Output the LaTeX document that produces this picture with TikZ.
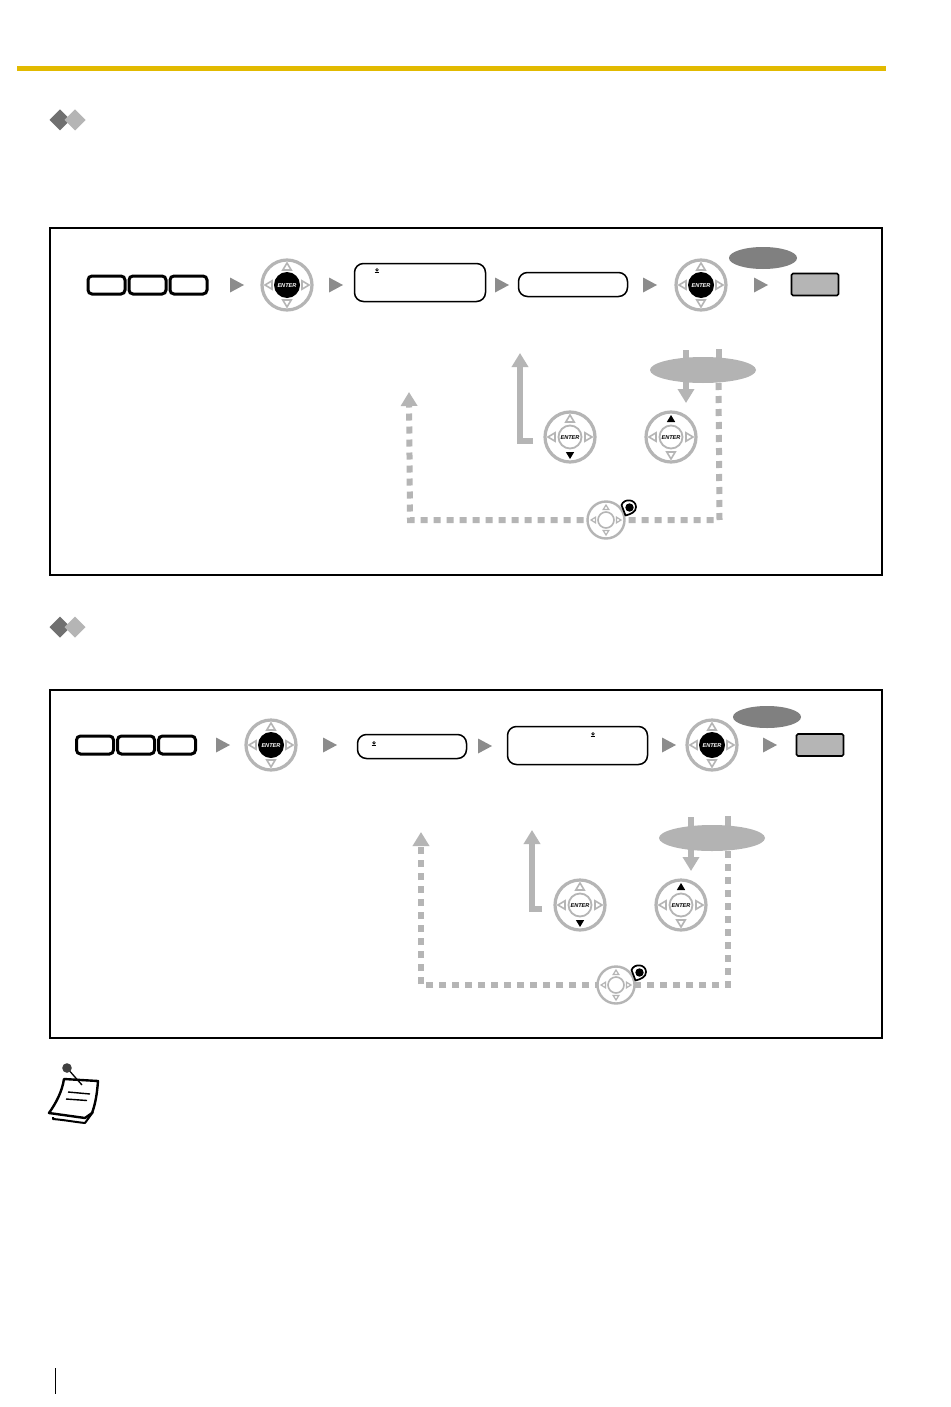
\documentclass[tikz,border=0pt]{standalone}
\usepackage{fontspec}
\setmainfont{Liberation Sans}
\usetikzlibrary{arrows.meta,shapes.geometric}
\definecolor{barc}{HTML}{E2BA00}
\definecolor{padc}{HTML}{B5B5B5}
\definecolor{ovalc}{HTML}{808080}
\definecolor{ovall}{HTML}{B3B3B3}
\definecolor{flowc}{HTML}{8C8C8C}
\definecolor{diamd}{HTML}{707070}
\tikzset{
  x=1pt,y=-1pt,
  panel/.style={draw=black,line width=1.5pt},
  keybox/.style={draw=black,line width=3pt,rounded corners=4pt,minimum width=37pt,minimum height=18pt,inner sep=0pt},
  dispbox/.style={draw=black,line width=1.5pt,rounded corners=9pt,inner sep=0pt},
  graybox/.style={draw=black,line width=1.6pt,fill=padc,rounded corners=1.5pt,minimum width=47pt,minimum height=22pt,inner sep=0pt},
  oval/.style={ellipse,inner sep=0pt},
  padring/.style={circle,draw=padc,fill=white,line width=3.2pt,inner sep=0pt},
  padtri/.style={draw=padc,line width=1.6pt,fill=white,line join=miter},
  conn/.style={draw=padc,line width=6pt,-{Triangle[width=16pt,length=14pt,fill=padc]}},
  connd/.style={conn,dash pattern=on 7pt off 6pt},
  stub/.style={draw=padc,line width=6pt},
  enterw/.style={text=white,font=\fontsize{5.6}{6}\selectfont\bfseries\itshape,inner sep=0pt,yshift=-.6pt},
  enterk/.style={text=black,font=\fontsize{5.6}{6}\selectfont\bfseries\itshape,inner sep=0pt,yshift=-.6pt},
}
\newcommand{\padfour}[4]{% up down left right styles
  \path[#1] (0,-22)--(4.2,-15)--(-4.2,-15)--cycle;
  \path[#2] (0,22)--(4.2,15)--(-4.2,15)--cycle;
  \path[#3] (-22,0)--(-15,-4.2)--(-15,4.2)--cycle;
  \path[#4] (22,0)--(15,-4.2)--(15,4.2)--cycle;}
% black enter pad
\newcommand{\padblack}[3]{%
  \node[padring,minimum size=50pt] (#1) at (#2,#3) {};
  \begin{scope}[shift={(#2,#3)}]
    \padfour{padtri}{padtri}{padtri}{padtri}
    \fill[black] (0,0) circle (13);
  \end{scope}
  \node[enterw] at (#2,#3) {ENTER};}
% light enter pad, with one black triangle
\newcommand{\padlight}[5]{%
  \node[padring,minimum size=50pt] (#1) at (#2,#3) {};
  \begin{scope}[shift={(#2,#3)}]
    \padfour{#4}{#5}{padtri}{padtri}
    \draw[padc,line width=1.8pt,fill=white] (0,0) circle (11.5);
  \end{scope}
  \node[enterk] at (#2,#3) {ENTER};}
% small navigator pad with a pin
\newcommand{\padnav}[3]{%
  \node[padring,line width=2.4pt,minimum size=37pt] (#1) at (#2,#3) {};
  \begin{scope}[shift={(#2,#3)}]
    \path[padtri,line width=1.2pt] (0,-15)--(2.8,-10.5)--(-2.8,-10.5)--cycle;
    \path[padtri,line width=1.2pt] (0,15)--(2.8,10.5)--(-2.8,10.5)--cycle;
    \path[padtri,line width=1.2pt] (-15,0)--(-10.5,-2.8)--(-10.5,2.8)--cycle;
    \path[padtri,line width=1.2pt] (15,0)--(10.5,-2.8)--(10.5,2.8)--cycle;
    \draw[padc,line width=1.6pt,fill=white] (0,0) circle (8);
    \draw[black,line width=1.7pt,fill=white,line join=round] (19.5,-4.5)--(15.5,-15)..controls (18,-22) and (30,-21) .. (30,-13)..controls (30,-8) and (25,-6) .. (19.5,-4.5)--cycle;
    \fill[black] (23.5,-12.5) circle (4.2);
  \end{scope}}
\newcommand{\flowtri}[2]{\fill[flowc] (#1,#2-7.5)--(#1+14,#2)--(#1,#2+7.5)--cycle;}
\newcommand{\curs}[2]{%
  \draw[black,line width=.7pt] (#1,#2-1.2) circle (1.3);
  \draw[black,line width=1.1pt] (#1-2.4,#2+1.9)--(#1+2.4,#2+1.9);}
\newcommand{\diams}[1]{%
  \fill[diamd] (60,#1-10.5)--(70.5,#1)--(60,#1+10.5)--(49.5,#1)--cycle;
  \fill[padc] (75,#1-10.5)--(85.5,#1)--(75,#1+10.5)--(64.5,#1)--cycle;}
\begin{document}
\begin{tikzpicture}
\useasboundingbox (0,0) rectangle (950,1407);
\fill[white] (0,0) rectangle (950,1407);
\fill[barc] (17,66) rectangle (886,71.5);
\diams{120}
\diams{627}
\draw[panel] (50,228) rectangle (882,575);
\draw[panel] (50,690) rectangle (882,1038);

% ---------- panel 1
\node[keybox] (k1a) at (106.5,285) {};
\node[keybox] (k1b) at (147.5,285) {};
\node[keybox] (k1c) at (188.5,285) {};
\flowtri{230}{285}
\padblack{p1a}{287}{285}
\flowtri{329}{285}
\node[dispbox,minimum width=131pt,minimum height=38pt] (d1a) at (420,282.5) {};
\curs{377}{271}
\flowtri{495}{285}
\node[dispbox,minimum width=109pt,minimum height=24pt] (d1b) at (573,284.5) {};
\flowtri{643}{285}
\padblack{p1b}{701}{285}
\node[oval,fill=ovalc,minimum width=68pt,minimum height=22pt] (o1a) at (763,258) {};
\flowtri{754}{285}
\node[graybox] (g1) at (815,284.5) {};

\coordinate (s1a) at (533,441); \coordinate (s1b) at (520,441); \coordinate (s1c) at (520,353);
\draw[conn] (s1a)--(s1b)--(s1c);
\coordinate (q1t) at (718.5,349); \coordinate (q1a) at (718.5,383); \coordinate (q1b) at (719.5,520); \coordinate (q1c) at (410,520); \coordinate (q1d) at (409,392);
\draw[stub] (q1t)--(718.5,360);
\draw[connd,dash phase=0pt] (q1a)--(q1b)--(q1c)--(q1d);
\coordinate (v1a) at (686,350); \coordinate (v1b) at (686,403);
\draw[conn] (v1a)--(v1b);
\node[oval,fill=ovall,minimum width=106pt,minimum height=26pt] (o1b) at (703,370) {};
\padlight{p1c}{570}{437}{padtri}{fill=black}
\padlight{p1d}{671}{437}{fill=black}{padtri}
\padnav{n1}{606}{520}

% ---------- panel 2
\node[keybox] (k2a) at (95,745) {};
\node[keybox] (k2b) at (136,745) {};
\node[keybox] (k2c) at (177,745) {};
\flowtri{216}{745}
\padblack{p2a}{271}{745}
\flowtri{323}{745}
\node[dispbox,minimum width=109pt,minimum height=24pt] (d2a) at (412,746.5) {};
\curs{374}{744}
\flowtri{478}{746}
\node[dispbox,minimum width=140pt,minimum height=38pt] (d2b) at (577.5,745.5) {};
\curs{593}{735}
\flowtri{662}{745}
\padblack{p2b}{712}{745}
\node[oval,fill=ovalc,minimum width=68pt,minimum height=22pt] (o2a) at (767,717) {};
\flowtri{763}{745}
\node[graybox] (g2) at (820,745) {};

\coordinate (s2a) at (542,909); \coordinate (s2b) at (532,909); \coordinate (s2c) at (532,830);
\draw[conn] (s2a)--(s2b)--(s2c);
\coordinate (q2t) at (728,816); \coordinate (q2a) at (728,851); \coordinate (q2b) at (728,985); \coordinate (q2c) at (421,985); \coordinate (q2d) at (421,832);
\draw[stub] (q2t)--(728,828);
\draw[connd,dash phase=0pt] (q2a)--(q2b)--(q2c)--(q2d);
\coordinate (v2a) at (691,817); \coordinate (v2b) at (691,871);
\draw[conn] (v2a)--(v2b);
\node[oval,fill=ovall,minimum width=106pt,minimum height=26pt] (o2b) at (712,838) {};
\padlight{p2c}{580}{905}{padtri}{fill=black}
\padlight{p2d}{681}{905}{fill=black}{padtri}
\padnav{n2}{616}{985}

% ---------- note icon
\draw[black,line width=2pt,line join=round,fill=white] (53,1117)--(53,1119)..controls (65,1120) and (75,1122) .. (85,1123)--(93,1112);
\draw[black,line width=2.4pt,line join=round,fill=white] (64,1079)--(98,1081)..controls (97,1095) and (95,1105) .. (92,1113)--(85,1118)--(49,1113)..controls (56,1103) and (62,1092) .. (64,1079)--cycle;
\draw[black,line width=1.3pt] (67,1068)--(82,1085);
\fill[black!75] (67,1068) circle (4.8);
\draw[black,line width=1.4pt] (68,1092)--(90,1094);
\draw[black,line width=1.4pt] (66,1099)--(87,1100.5);

\draw[black,line width=.8pt] (55,1368)--(55,1394);
\end{tikzpicture}
\end{document}
